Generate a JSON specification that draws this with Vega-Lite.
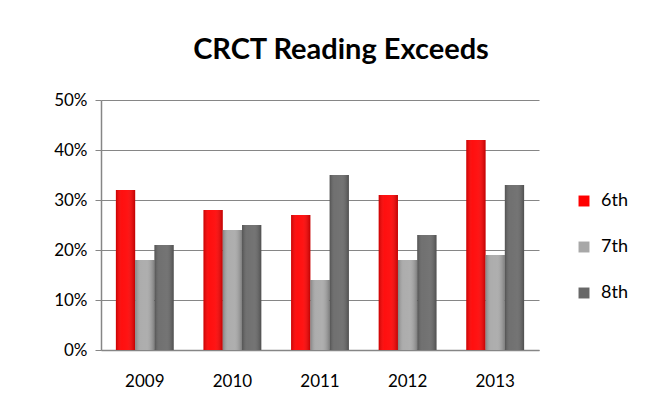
{
  "$schema": "https://vega.github.io/schema/vega-lite/v6.json",
  "width": 438,
  "height": 250,
  "autosize": "none",
  "padding": {"left": 101, "top": 100, "right": 130, "bottom": 66},
  "background": "white",
  "title": {"text": "CRCT Reading Exceeds", "font": "Lato", "fontSize": 29, "fontWeight": "bold", "color": "black", "anchor": "middle", "offset": 26, "dx": 21},
  "data": {"values": [
    {"year": "2009", "grade": "6th", "v": 0.32},
    {"year": "2009", "grade": "7th", "v": 0.18},
    {"year": "2009", "grade": "8th", "v": 0.21},
    {"year": "2010", "grade": "6th", "v": 0.28},
    {"year": "2010", "grade": "7th", "v": 0.24},
    {"year": "2010", "grade": "8th", "v": 0.25},
    {"year": "2011", "grade": "6th", "v": 0.27},
    {"year": "2011", "grade": "7th", "v": 0.14},
    {"year": "2011", "grade": "8th", "v": 0.35},
    {"year": "2012", "grade": "6th", "v": 0.31},
    {"year": "2012", "grade": "7th", "v": 0.18},
    {"year": "2012", "grade": "8th", "v": 0.23},
    {"year": "2013", "grade": "6th", "v": 0.42},
    {"year": "2013", "grade": "7th", "v": 0.19},
    {"year": "2013", "grade": "8th", "v": 0.33}
  ]},
  "encoding": {
    "x": {"field": "year", "type": "nominal", "title": null,
      "scale": {"paddingInner": 0.34, "paddingOuter": 0.17},
      "axis": {"labelAngle": 0, "labelFont": "Lato", "labelFontSize": 17, "labelColor": "black", "labelPadding": 23, "ticks": false, "domainColor": "#868686", "domainWidth": 1.5}},
    "xOffset": {"field": "grade", "type": "nominal"},
    "y": {"field": "v", "type": "quantitative", "title": null,
      "scale": {"domain": [0, 0.5]},
      "axis": {"format": ".0%", "values": [0, 0.1, 0.2, 0.3, 0.4, 0.5], "labelFont": "Lato", "labelFontSize": 17, "labelColor": "black", "labelPadding": 8, "tickSize": 6, "tickColor": "#868686", "domainColor": "#868686", "domainWidth": 1.5, "gridColor": "#868686", "gridWidth": 1.2}}
  },
  "layer": [
    {
      "mark": {"type": "bar"},
      "encoding": {
        "color": {"field": "grade", "type": "nominal", "title": null,
          "scale": {"domain": ["6th", "7th", "8th"], "range": ["#FF0000", "#A8A8A8", "#686868"]},
          "legend": {"orient": "none", "legendX": 474, "legendY": 92, "symbolType": "square", "symbolSize": 120, "symbolStrokeWidth": 0, "labelFont": "Lato", "labelFontSize": 18, "labelColor": "black", "rowPadding": 28, "labelOffset": 8}}
      }
    },
    {
      "mark": {"type": "bar", "color": {"gradient": "linear", "x1": 0, "y1": 0, "x2": 1, "y2": 0, "stops": [{"offset": 0, "color": "rgba(0,0,0,0.22)"}, {"offset": 0.3, "color": "rgba(255,255,255,0.06)"}, {"offset": 0.6, "color": "rgba(255,255,255,0.08)"}, {"offset": 1, "color": "rgba(0,0,0,0.25)"}]}},
      "encoding": {}
    }
  ],
  "config": {"view": {"stroke": null}}
}
